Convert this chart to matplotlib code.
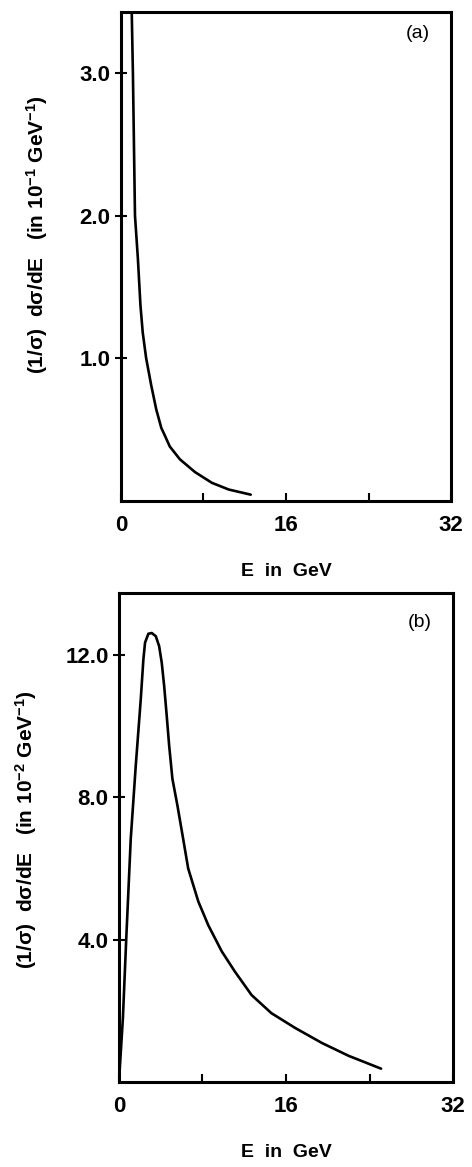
import matplotlib
matplotlib.use("Agg")
import matplotlib.pyplot as plt

plt.rcParams['font.family'] = ['Liberation Sans', 'DejaVu Sans']
plt.rcParams['font.weight'] = 'bold'
plt.rcParams['mathtext.fontset'] = 'custom'
plt.rcParams['mathtext.rm'] = 'Liberation Sans:bold'
plt.rcParams['mathtext.default'] = 'rm'

# panel (a): (1/sigma) dsigma/dE in 10^-1 GeV^-1
E_a = [1.05, 1.17, 1.27, 1.37, 1.65, 1.9, 2.12, 2.45, 2.94, 3.43, 3.92,
       4.18, 4.74, 5.72, 7.19, 8.82, 10.45, 12.58]
y_a = [3.45, 3.0, 2.5, 2.0, 1.7, 1.37, 1.18, 1.0, 0.81, 0.64, 0.51,
       0.47, 0.38, 0.29, 0.2, 0.125, 0.078, 0.042]

# panel (b): (1/sigma) dsigma/dE in 10^-2 GeV^-1
E_b = [0.0, 0.38, 0.7, 1.13, 1.61, 2.09, 2.34, 2.5, 2.82, 3.14, 3.53, 3.85,
       4.1, 4.33, 4.55, 4.81, 5.12, 5.6, 6.15, 6.63, 7.6, 8.56, 9.84, 11.1,
       12.7, 14.6, 16.9, 19.45, 22.0, 25.1]
y_b = [0.0, 1.8, 4.03, 6.83, 8.89, 10.76, 11.88, 12.35, 12.6, 12.62, 12.53,
       12.25, 11.78, 11.13, 10.38, 9.45, 8.52, 7.77, 6.83, 6.0, 5.07, 4.4,
       3.67, 3.1, 2.44, 1.93, 1.51, 1.09, 0.73, 0.37]

x_ticks = [0, 8, 16, 24, 32]
x_ticklabels = ['0', '', '16', '', '32']
a_yticks = [1.0, 2.0, 3.0]
b_yticks = [4.0, 8.0, 12.0]

fig = plt.figure(figsize=(4.72, 11.67), dpi=100)
ax1 = fig.add_axes([0.256, 0.571, 0.700, 0.419])
ax2 = fig.add_axes([0.252, 0.073, 0.708, 0.419])

def style(ax, yticks, ylim):
    ax.set_xlim(0, 32)
    ax.set_ylim(0, ylim)
    ax.set_xticks(x_ticks)
    ax.set_xticklabels(x_ticklabels)
    ax.set_yticks(yticks)
    ax.set_yticklabels([f"{t:.1f}" for t in yticks])
    ax.tick_params(axis='x', direction='in', length=6, width=1.5,
                   labelsize=16, pad=10)
    ax.tick_params(axis='y', direction='inout', length=9, width=1.5,
                   labelsize=16, pad=3)
    for s in ax.spines.values():
        s.set_linewidth(2.2)
    ax.set_xlabel("E  in  GeV", fontsize=14, fontweight='bold', labelpad=20)

ax1.plot(E_a, y_a, color='black', lw=1.9, solid_capstyle='round')
style(ax1, a_yticks, 3.43)
ax1.set_ylabel("(1/σ)  dσ/dE   (in 10$^{-1}$ GeV$^{-1}$)", fontsize=15,
               fontweight='bold')
ax1.yaxis.set_label_coords(-0.215, 0.545)
ax1.text(0.9, 0.955, "(a)", transform=ax1.transAxes, fontsize=14,
         ha='center', va='center', fontweight='normal')

ax2.plot(E_b, y_b, color='black', lw=1.9, solid_capstyle='round')
style(ax2, b_yticks, 13.75)
ax2.set_ylabel("(1/σ)  dσ/dE   (in 10$^{-2}$ GeV$^{-1}$)", fontsize=15,
               fontweight='bold')
ax2.yaxis.set_label_coords(-0.24, 0.515)
ax2.text(0.9, 0.94, "(b)", transform=ax2.transAxes, fontsize=14,
         ha='center', va='center', fontweight='normal')

fig.savefig("out.png", dpi=100)
